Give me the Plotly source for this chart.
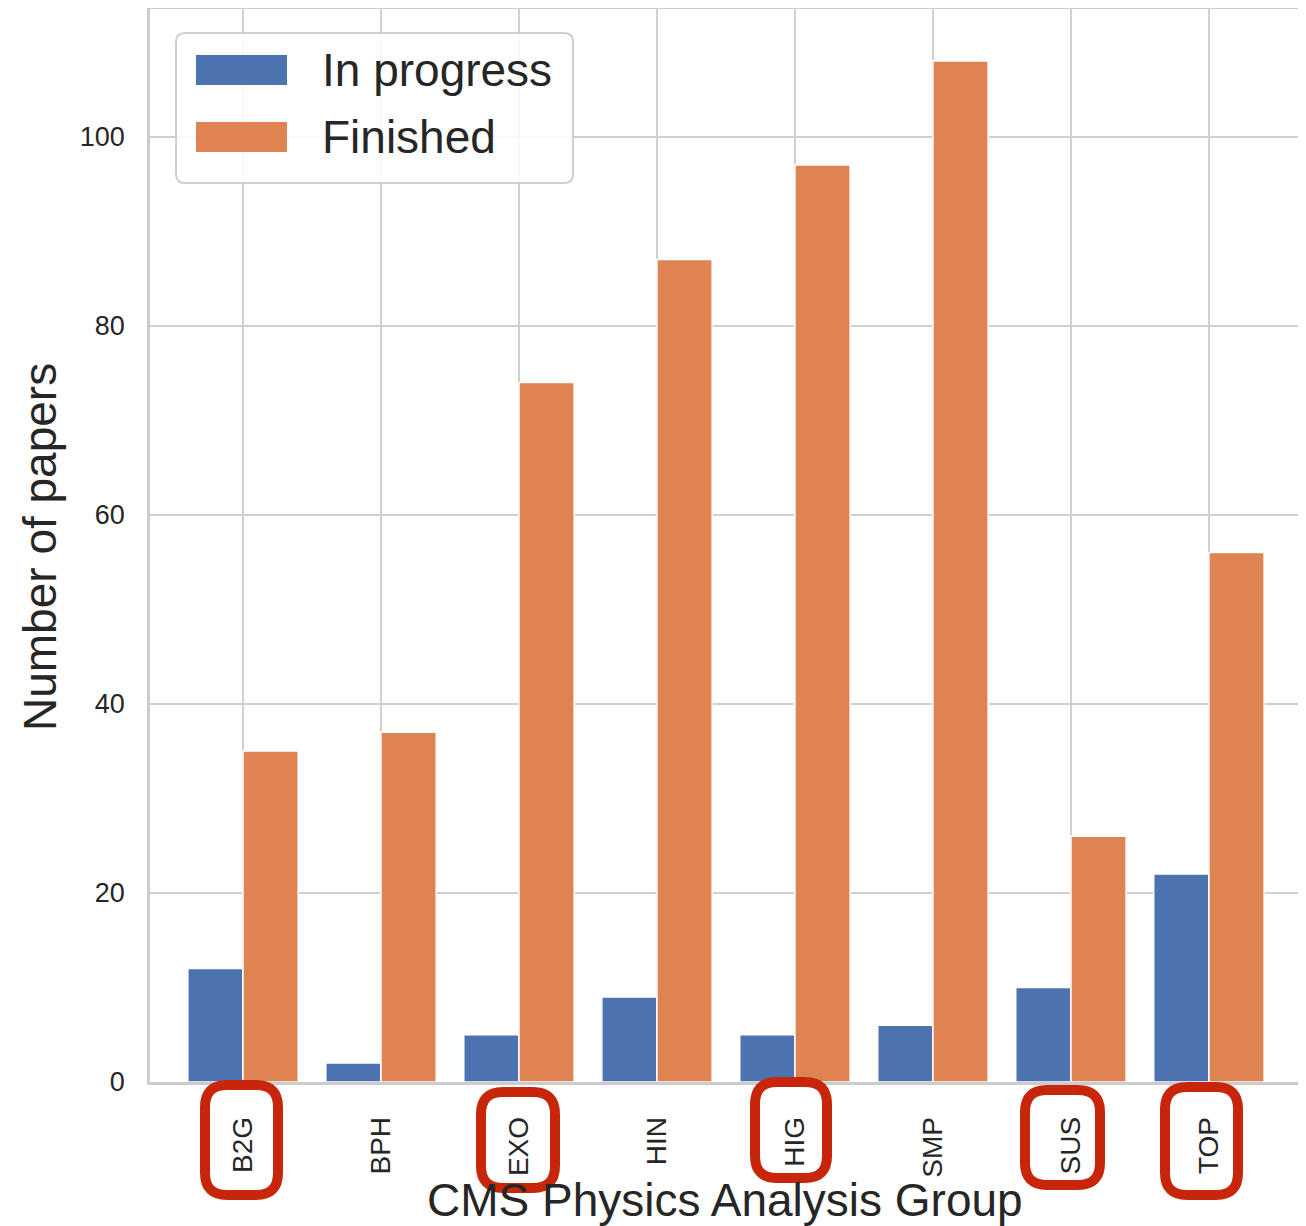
import plotly.graph_objects as go

groups = ["B2G", "BPH", "EXO", "HIN", "HIG", "SMP", "SUS", "TOP"]
in_progress = [12, 2, 5, 9, 5, 6, 10, 22]
finished = [35, 37, 74, 87, 97, 108, 26, 56]
highlighted = ["B2G", "EXO", "HIG", "SUS", "TOP"]
y_ticks = [0, 20, 40, 60, 80, 100]

BLUE = "#4c72b0"
ORANGE = "#dd8452"
RED = "#c8260a"
GRID = "#d0d0d0"
TXT = "#262626"
FONT = "Liberation Sans, Arial, sans-serif"

OFF = 8  # page body margin
W, H = 1306 - OFF, 1226 - OFF
# plot area in page pixels
L, R, T, B = 150, 1300, 9, 1082
fL, fR, fT, fB = L - OFF, R - OFF, T - OFF, B - OFF


def px(x):
    return (x - L) / (R - L)


def py(y):
    return (B - y) / (B - T)


def rounded_rect(x0, y0, x1, y1, r):
    rx = r / (R - L)
    ry = r / (B - T)
    a, b, c, d = px(x0), py(y0), px(x1), py(y1)
    return (f"M {a+rx},{b} L {c-rx},{b} Q {c},{b} {c},{b-ry} "
            f"L {c},{d+ry} Q {c},{d} {c-rx},{d} L {a+rx},{d} "
            f"Q {a},{d} {a},{d+ry} L {a},{b-ry} Q {a},{b} {a+rx},{b} Z")


fig = go.Figure()
fig.add_trace(go.Bar(x=groups, y=in_progress, name="In progress",
                     marker=dict(color=BLUE, line=dict(color="white", width=1.5))))
fig.add_trace(go.Bar(x=groups, y=finished, name="Finished",
                     marker=dict(color=ORANGE, line=dict(color="white", width=1.5))))

shapes = []
annotations = []

# custom legend
shapes.append(dict(type="path", xref="paper", yref="paper",
                   path=rounded_rect(176, 33, 573, 183, 9),
                   line=dict(color="#cfcfcf", width=2),
                   fillcolor="rgba(255,255,255,0.85)", layer="above"))
for i, (label, col) in enumerate([("In progress", BLUE), ("Finished", ORANGE)]):
    yc = 70 + i * 67
    shapes.append(dict(type="rect", xref="paper", yref="paper",
                       x0=px(196), x1=px(287), y0=py(yc - 15), y1=py(yc + 15),
                       fillcolor=col, line=dict(width=0), layer="above"))
    annotations.append(dict(text=label, xref="paper", yref="paper",
                            x=px(320), y=py(yc), xanchor="left", yanchor="middle",
                            showarrow=False, font=dict(size=46, color=TXT, family=FONT)))

# axis titles
annotations.append(dict(text="Number of papers", xref="paper", yref="paper",
                        x=px(40), y=py(547), textangle=-90, xanchor="center",
                        yanchor="middle", showarrow=False,
                        font=dict(size=46, color=TXT, family=FONT)))
annotations.append(dict(text="CMS Physics Analysis Group", xref="paper", yref="paper",
                        x=px(725), y=py(1200), xanchor="center", yanchor="middle",
                        showarrow=False, font=dict(size=46, color=TXT, family=FONT)))

# red highlight boxes around tick labels
box_px = {
    "B2G": (200, 1080, 283, 1200),
    "EXO": (476, 1087, 560, 1193),
    "HIG": (750, 1077, 832, 1183),
    "SUS": (1020, 1085, 1105, 1190),
    "TOP": (1160, 1082, 1243, 1200),
}
for g in highlighted:
    x0, y0, x1, y1 = box_px[g]
    shapes.append(dict(type="path", xref="paper", yref="paper",
                       path=rounded_rect(x0 + 5, y0 + 5, x1 - 5, y1 - 5, 22),
                       line=dict(color=RED, width=10), fillcolor="rgba(0,0,0,0)",
                       layer="above"))

fig.update_layout(
    width=W, height=H,
    margin=dict(l=fL, r=W - fR, t=fT, b=H - fB, autoexpand=False),
    paper_bgcolor="white", plot_bgcolor="white",
    barmode="group", bargap=0.2, bargroupgap=0,
    showlegend=False,
    font=dict(family=FONT, color=TXT),
    shapes=shapes, annotations=annotations,
)
fig.update_xaxes(
    range=[-0.674, 7.66], showgrid=True, gridcolor=GRID, gridwidth=2,
    showline=True, linecolor="#cccccc", linewidth=2.5, mirror=True,
    tickangle=-90, ticks="", ticklabelstandoff=21,
    tickfont=dict(size=28, color=TXT, family=FONT),
)
fig.update_yaxes(
    range=[0, 113.5], tickvals=y_ticks, showgrid=True, gridcolor=GRID, gridwidth=2,
    showline=True, linecolor="#cccccc", linewidth=2.5, mirror=True,
    ticks="", ticklabelstandoff=17, zeroline=False,
    tickfont=dict(size=27, color=TXT, family=FONT),
)

fig.write_html("out.html")
